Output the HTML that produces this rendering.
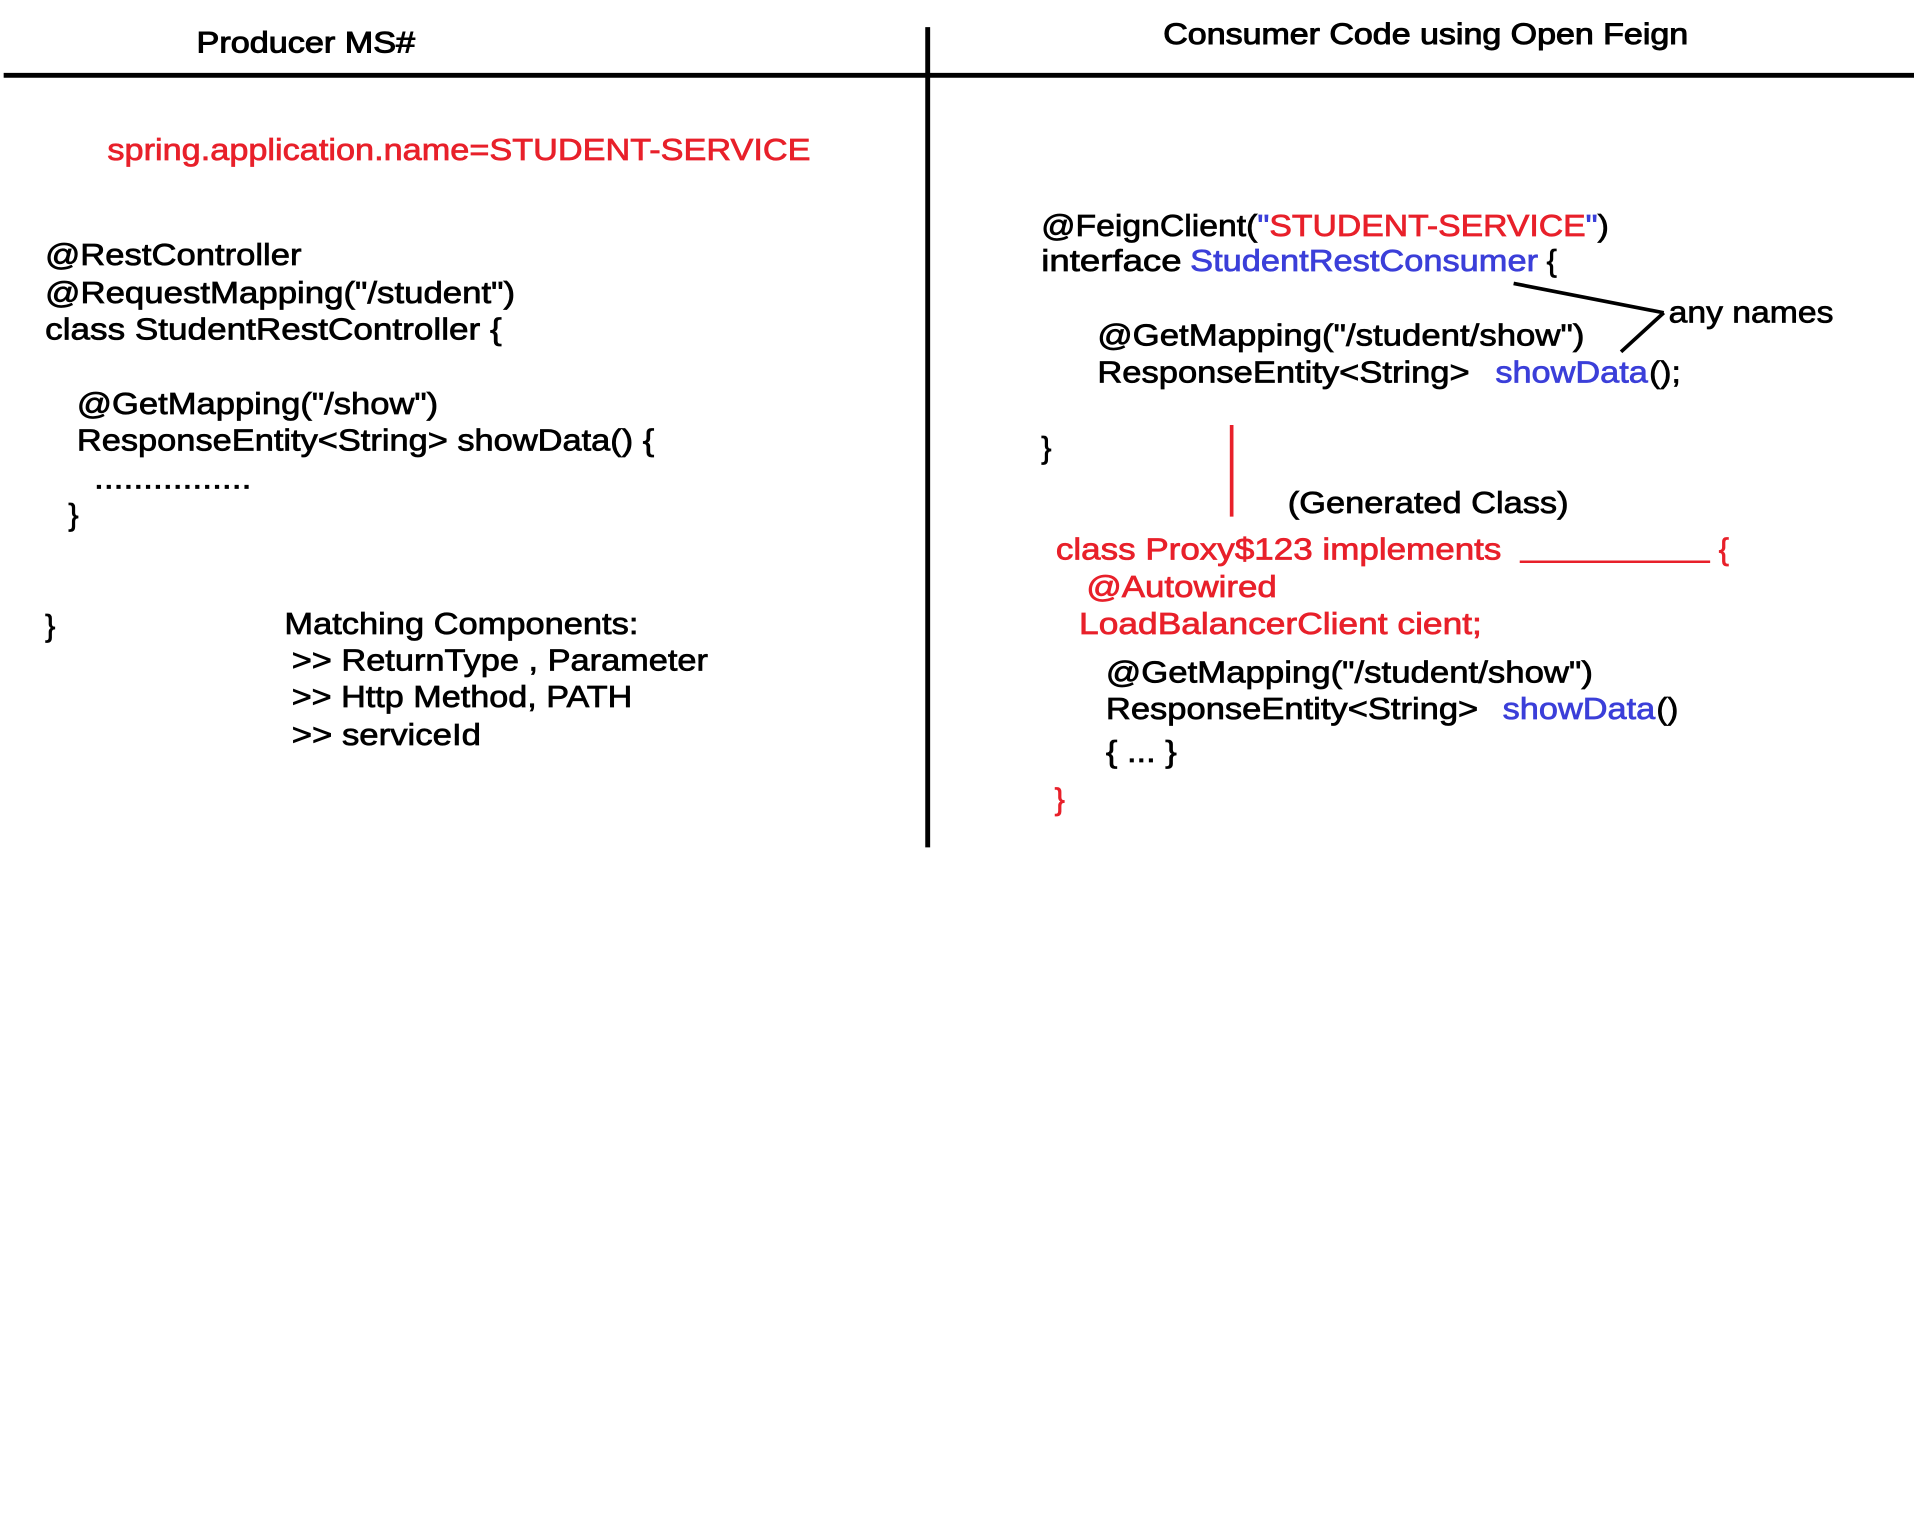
<!DOCTYPE html>
<html><head><meta charset="utf-8"><style>
html,body{margin:0;padding:0;background:#fff;width:1914px;height:1530px;overflow:hidden}
svg{display:block}
text{font-family:"Liberation Sans",sans-serif;font-size:25px;fill:#000;stroke:#000;stroke-width:0.6}
.r{fill:#e8202a;stroke:#e8202a}
.b{fill:#3b3fd9;stroke:#3b3fd9}
</style></head><body>
<svg width="1914" height="1530" viewBox="0 0 1568 1253" xmlns="http://www.w3.org/2000/svg">
<line x1="3" y1="61.5" x2="1568" y2="61.5" stroke="#000" stroke-width="4"/>
<line x1="760" y1="22" x2="760" y2="694" stroke="#000" stroke-width="4"/>
<text x="161" y="43" textLength="179" lengthAdjust="spacingAndGlyphs" style="font-size:24px;stroke-width:0.8">Producer MS#</text>
<text x="953" y="36" textLength="430" lengthAdjust="spacingAndGlyphs" style="font-size:24px;stroke-width:0.8">Consumer Code using Open Feign</text>
<text class="r" x="88" y="131" textLength="576" lengthAdjust="spacingAndGlyphs">spring.application.name=STUDENT-SERVICE</text>

<text x="37" y="217" textLength="210" lengthAdjust="spacingAndGlyphs">@RestController</text>
<text x="37" y="248" textLength="385" lengthAdjust="spacingAndGlyphs">@RequestMapping("/student")</text>
<text x="37" y="278" textLength="374" lengthAdjust="spacingAndGlyphs">class StudentRestController {</text>
<text x="63" y="339" textLength="296" lengthAdjust="spacingAndGlyphs">@GetMapping("/show")</text>
<text x="63" y="369" textLength="473" lengthAdjust="spacingAndGlyphs">ResponseEntity&lt;String&gt; showData() {</text>
<text x="77" y="400" textLength="129" lengthAdjust="spacingAndGlyphs">................</text>
<text x="56" y="430">}</text>
<text x="37" y="521">}</text>
<text x="233" y="519" textLength="290" lengthAdjust="spacingAndGlyphs">Matching Components:</text>
<text x="239" y="549" textLength="341" lengthAdjust="spacingAndGlyphs">&gt;&gt; ReturnType , Parameter</text>
<text x="239" y="579" textLength="279" lengthAdjust="spacingAndGlyphs">&gt;&gt; Http Method, PATH</text>
<text x="239" y="610" textLength="155" lengthAdjust="spacingAndGlyphs">&gt;&gt; serviceId</text>

<text x="853" y="193" textLength="465" lengthAdjust="spacingAndGlyphs">@FeignClient(<tspan class="b">"</tspan><tspan class="r">STUDENT-SERVICE</tspan><tspan class="b">"</tspan>)</text>
<text x="853" y="222" textLength="115" lengthAdjust="spacingAndGlyphs">interface</text>
<text class="b" x="975" y="222" textLength="285" lengthAdjust="spacingAndGlyphs">StudentRestConsumer</text>
<text x="1267" y="222">{</text>
<text x="899" y="283" textLength="399" lengthAdjust="spacingAndGlyphs">@GetMapping("/student/show")</text>
<text x="899" y="313" textLength="305" lengthAdjust="spacingAndGlyphs">ResponseEntity&lt;String&gt;</text>
<text class="b" x="1225" y="313" textLength="125" lengthAdjust="spacingAndGlyphs">showData</text>
<text x="1351" y="313" textLength="26" lengthAdjust="spacingAndGlyphs">();</text>
<text x="1367" y="264" textLength="135" lengthAdjust="spacingAndGlyphs">any names</text>
<line x1="1240" y1="232" x2="1363" y2="256" stroke="#000" stroke-width="3"/>
<line x1="1328" y1="288" x2="1363" y2="256" stroke="#000" stroke-width="3"/>
<text x="853" y="375">}</text>
<line x1="1009" y1="348" x2="1009" y2="423" stroke="#e8202a" stroke-width="3"/>
<text x="1055" y="420" textLength="230" lengthAdjust="spacingAndGlyphs">(Generated Class)</text>
<text class="r" x="865" y="458" textLength="365" lengthAdjust="spacingAndGlyphs">class Proxy$123  implements</text>
<line x1="1245" y1="460" x2="1401" y2="460" stroke="#e8202a" stroke-width="2"/>
<text class="r" x="1408" y="458">{</text>
<text class="r" x="890" y="489" textLength="156" lengthAdjust="spacingAndGlyphs">@Autowired</text>
<text class="r" x="884" y="519" textLength="330" lengthAdjust="spacingAndGlyphs">LoadBalancerClient cient;</text>
<text x="906" y="559" textLength="399" lengthAdjust="spacingAndGlyphs">@GetMapping("/student/show")</text>
<text x="906" y="589" textLength="305" lengthAdjust="spacingAndGlyphs">ResponseEntity&lt;String&gt;</text>
<text class="b" x="1231" y="589" textLength="125" lengthAdjust="spacingAndGlyphs">showData</text>
<text x="1357" y="589" textLength="18" lengthAdjust="spacingAndGlyphs">()</text>
<text x="906" y="624" textLength="58" lengthAdjust="spacingAndGlyphs">{ ... }</text>
<text class="r" x="864" y="663">}</text>
</svg>
</body></html>
